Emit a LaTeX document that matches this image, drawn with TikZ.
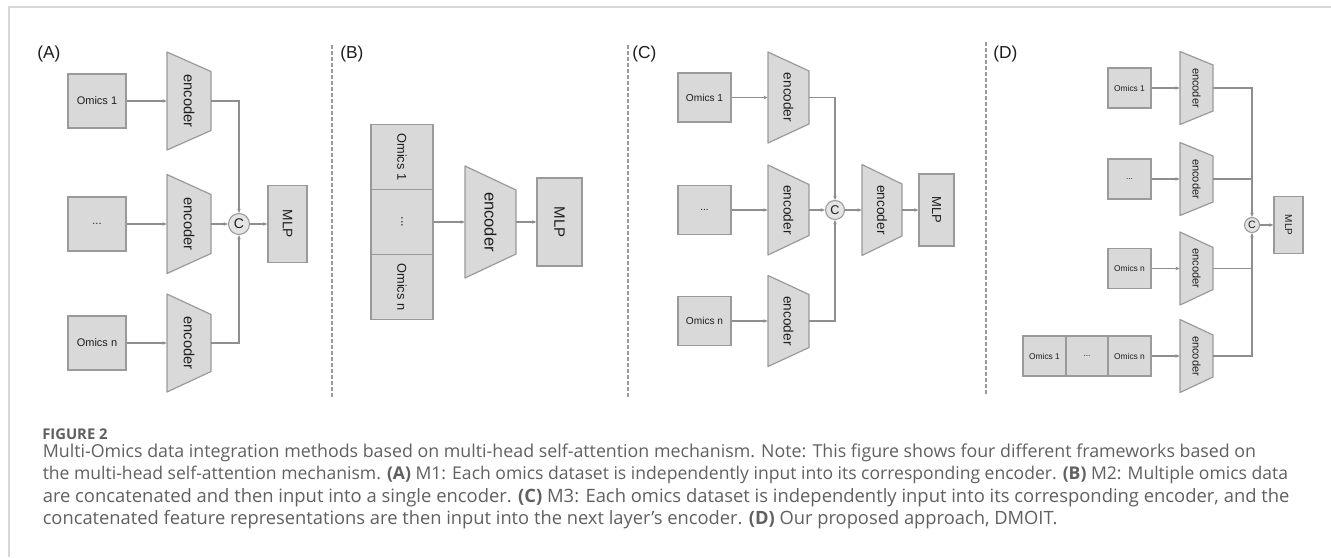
\documentclass[tikz,border=0pt]{standalone}
\usepackage{fontspec}
\usepackage{graphicx}
\setmainfont{Liberation Sans}
\newfontfamily\capfont{Open Sans}
\usetikzlibrary{arrows.meta,calc}
\definecolor{boxfill}{HTML}{D9D9D9}
\definecolor{boxdraw}{HTML}{9A9A9A}
\definecolor{catfill}{HTML}{E4E4E4}
\definecolor{linec}{HTML}{8E8E8E}
\definecolor{dashc}{HTML}{9A9A9A}
\definecolor{framec}{HTML}{D6D6D6}
\definecolor{capc}{HTML}{606060}
\definecolor{txtc}{HTML}{1E1E1E}
\tikzset{
 fs/.style={font=\fontsize{#1}{#1}\selectfont},
 bx/.style 2 args={draw=boxdraw, fill=boxfill, line width=0.9pt, inner sep=0pt, minimum width=#1*0.75pt, minimum height=#2*0.75pt, text=txtc},
 encst/.style={draw=boxdraw, fill=boxfill, line width=0.9pt, line join=round},
 conn/.style={draw=linec, line width=0.8pt, -{Stealth[length=3.2pt,width=2.6pt]}},
 plainconn/.style={draw=linec, line width=0.8pt},
 cat/.style={circle, draw=boxdraw, fill=catfill, line width=0.8pt, inner sep=0pt, minimum size=#1*0.75pt, text=txtc},
 sepline/.style={draw=dashc, line width=0.8pt, dash pattern=on 3pt off 1.5pt},
 lbl/.style={anchor=west, inner sep=0pt, font=\fontsize{13}{13}\selectfont, text=txtc},
 capline/.style={anchor=base west, inner sep=0pt, text=capc, font=\capfont},
}
% name, x-left, y-centre, width, half-height left, half-height right, font size
\newcommand\encnode[7]{%
 \draw[encst] (#2,#3-#5) -- (#2+#4,#3-#6) -- (#2+#4,#3+#6) -- (#2,#3+#5) -- cycle;
 \node[inner sep=0pt, minimum width=#4*0.75pt, minimum height=2*#6*0.75pt, text=txtc, font=\fontsize{#7}{#7}\selectfont] (#1) at (#2+#4/2,#3) {\rotatebox{-90}{encoder}};
}
% fit a caption line to a given width (in pt)
\newlength\capw
\newcommand\fitline[2]{\settowidth\capw{\capfont\fontsize{10pt}{12pt}\selectfont #2}%
 \pgfmathsetmacro\capfs{10*#1/\capw}%
 \fontsize{\capfs pt}{\capfs pt}\selectfont #2}
\begin{document}
\begin{tikzpicture}[x=0.75pt,y=-0.75pt]
\useasboundingbox (0,0) rectangle (1331,557);
\fill[white] (0,0) rectangle (1331,557);
% frame
\draw[framec, line width=0.8pt] (1331,7) -- (9,7) -- (9,557);
% separators
\coordinate (s1t) at (332,45); \coordinate (s1b) at (332,398);
\coordinate (s2t) at (628,45); \coordinate (s2b) at (628,398);
\coordinate (s3t) at (986,42); \coordinate (s3b) at (986,394);
\draw[sepline] (s1t) -- (s1b);
\draw[sepline] (s2t) -- (s2b);
\draw[sepline] (s3t) -- (s3b);

% ---------- Panel A ----------
\node[lbl] (la) at (37,54) {(A)};
\node[bx={58}{54}, fs=8.25] (a1) at (97,101) {Omics 1};
\node[bx={58}{54}, fs=8.25] (a2) at (97,224) {...};
\node[bx={58}{54}, fs=8.25] (a3) at (97,343) {Omics n};
\encnode{ae1}{167}{101}{44}{49}{29.5}{11}
\encnode{ae2}{167}{224}{44}{49.5}{29.5}{11}
\encnode{ae3}{167}{343}{44}{49}{28.5}{11}
\node[cat=21, fs=10.5] (ac) at (239,224) {C};
\node[bx={39}{77}, fs=10.3] (am) at (287.5,224) {\rotatebox{-90}{MLP}};
\draw[conn] (a1) -- (ae1);
\draw[conn] (a2) -- (ae2);
\draw[conn] (a3) -- (ae3);
\draw[conn] (ae1.east) -| (ac.north);
\draw[conn] (ae2) -- (ac);
\draw[conn] (ae3.east) -| (ac.south);
\draw[conn] (ac) -- (am);

% ---------- Panel B ----------
\node[lbl] (lb) at (340,54) {(B)};
\node[bx={62}{65}, fs=9.6] (b1) at (402,157) {\rotatebox{-90}{Omics 1}};
\node[bx={62}{65}, fs=9.6] (b2) at (402,222) {\rotatebox{-90}{...}};
\node[bx={62}{65}, fs=9.6] (b3) at (402,287) {\rotatebox{-90}{Omics n}};
\encnode{be}{465}{222}{51}{56}{32}{12.4}
\node[bx={45}{88}, fs=11.3] (bm) at (559.5,222) {\rotatebox{-90}{MLP}};
\draw[conn] (b2) -- (be);
\draw[conn] (be) -- (bm);

% ---------- Panel C ----------
\node[lbl] (lc) at (632,54) {(C)};
\node[bx={53}{49}, fs=7.6] (c1) at (704.5,97.5) {Omics 1};
\node[bx={53}{49}, fs=7.6] (c2) at (704.5,210) {...};
\node[bx={53}{49}, fs=7.6] (c3) at (704.5,321) {Omics n};
\encnode{ce1}{768}{97.5}{41}{45.5}{26.5}{10.2}
\encnode{ce2}{768}{210}{41}{45}{25.5}{10.2}
\encnode{ce3}{768}{321}{41}{45.5}{26.5}{10.2}
\node[cat=19, fs=9.5] (cc) at (835,210) {C};
\encnode{ce4}{862}{210}{40}{45.5}{26}{10.2}
\node[bx={35}{72}, fs=9.75] (cm) at (936.5,210) {\rotatebox{-90}{MLP}};
\draw[conn] (c1) -- (ce1);
\draw[conn] (c2) -- (ce2);
\draw[conn] (c3) -- (ce3);
\draw[conn] (ce1.east) -| (cc.north);
\draw[conn] (ce2) -- (cc);
\draw[conn] (ce3.east) -| (cc.south);
\draw[conn] (cc) -- (ce4);
\draw[conn] (ce4) -- (cm);

% ---------- Panel D ----------
\node[lbl] (ld) at (993,54) {(D)};
\node[bx={43}{40}, fs=6.3] (d1) at (1129.5,88) {Omics 1};
\node[bx={43}{40}, fs=6.3] (d2) at (1129.5,179) {...};
\node[bx={43}{40}, fs=6.3] (d3) at (1129.5,268.5) {Omics n};
\node[bx={43}{40}, fs=6.3] (d4a) at (1044.5,356) {Omics 1};
\node[bx={42}{40}, fs=6.3] (d4b) at (1087,356) {...};
\node[bx={43}{40}, fs=6.3] (d4c) at (1129.5,356) {Omics n};
\encnode{de1}{1180}{88}{33}{36.5}{23}{8.3}
\encnode{de2}{1180}{179}{33}{36.5}{23}{8.3}
\encnode{de3}{1180}{268.5}{33}{36.5}{21}{8.3}
\encnode{de4}{1180}{356}{33}{36.5}{21}{8.3}
\node[cat=15, fs=8] (dc) at (1252,225) {C};
\node[bx={29}{57}, fs=7.5] (dm) at (1288.5,225) {\rotatebox{-90}{MLP}};
\draw[conn] (d1) -- (de1);
\draw[conn] (d2) -- (de2);
\draw[conn] (d3) -- (de3);
\draw[conn] (d4c) -- (de4);
\draw[conn] (de1.east) -| (dc.north);
\draw[plainconn] (de2.east) -- (de2.east -| dc.center);
\draw[plainconn] (de3.east) -- (de3.east -| dc.center);
\draw[conn] (de4.east) -| (dc.south);
\draw[conn] (dc) -- (dm);

% ---------- Caption ----------
\node[capline] (fig) at (42,439) {\fitline{49}{\bfseries FIGURE 2}};
\node[capline] (cap1) at (42.5,457) {\fitline{910}{Multi-Omics data integration methods based on multi-head self-attention mechanism. Note: This figure shows four different frameworks based on}};
\node[capline] (cap2) at (42.5,479.5) {\fitline{934}{the multi-head self-attention mechanism. \textbf{(A)} M1: Each omics dataset is independently input into its corresponding encoder. \textbf{(B)} M2: Multiple omics data}};
\node[capline] (cap3) at (42.5,502) {\fitline{935}{are concatenated and then input into a single encoder. \textbf{(C)} M3: Each omics dataset is independently input into its corresponding encoder, and the}};
\node[capline] (cap4) at (42.5,524.5) {\fitline{761}{concatenated feature representations are then input into the next layer’s encoder. \textbf{(D)} Our proposed approach, DMOIT.}};
\end{tikzpicture}
\end{document}
